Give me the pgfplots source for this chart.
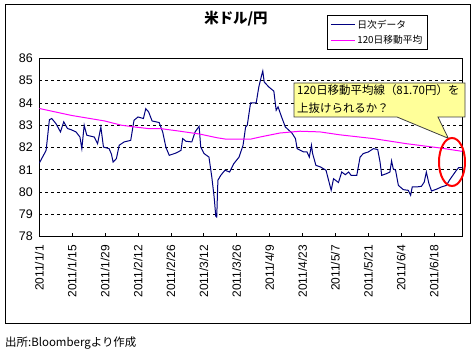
\documentclass[border=0pt]{standalone}
\usepackage{pgfplots}
\pgfplotsset{compat=1.18}
\usepackage{fontspec}
\setmainfont{Liberation Sans}
\newfontfamily\jp{Noto Sans CJK JP}
\definecolor{navyline}{HTML}{000080}
\definecolor{maline}{HTML}{FF00FF}
\definecolor{callfill}{HTML}{FFFF99}

\pgfplotstableread{
day val
0 81.30
2.9 81.87
4.3 83.25
5.3 83.30
7.1 83.07
9.0 82.70
10.4 83.15
12.0 82.85
13.5 82.80
15.6 82.70
17.3 82.47
18.1 81.95
19.1 83.00
20.2 82.55
23.4 82.47
24.8 82.17
26.2 82.92
27.3 82.02
29.7 81.95
30.7 81.70
31.4 81.35
32.8 81.50
34.0 82.10
36.1 82.25
38.9 82.32
40.3 83.22
42.0 83.37
44.3 83.30
45.3 83.74
46.5 83.60
48.0 83.19
51.0 83.12
52.5 82.70
53.9 82.00
55.3 81.65
58.1 81.75
60.3 81.87
61.0 82.40
62.4 82.28
64.9 82.25
66.3 82.70
68.0 82.95
68.7 82.02
70.1 81.73
72.2 81.57
73.4 80.68
74.4 79.78
75.1 78.91
75.5 78.88
76.0 80.53
77.2 80.75
79.0 80.98
81.0 80.90
82.8 81.28
85.0 81.57
86.7 82.10
87.8 82.92
88.5 83.00
89.9 84.00
92.3 84.00
93.4 84.71
94.6 85.24
95.1 85.43
95.7 84.94
97.7 84.71
99.8 84.53
100.8 83.67
101.6 83.82
103.0 83.40
104.7 82.92
107.5 82.65
109.0 82.40
109.7 81.95
112.5 81.80
113.9 81.80
114.9 81.57
115.8 82.10
116.3 81.73
117.7 81.20
119.6 81.13
122.0 80.98
123.1 80.53
124.2 80.08
125.2 80.60
127.3 80.43
128.7 80.90
130.2 80.78
131.6 80.90
132.7 80.75
135.1 80.75
136.5 81.57
137.9 81.73
140.0 81.80
142.2 81.95
144.0 81.91
145.0 81.35
145.7 80.75
147.8 80.83
149.2 80.90
149.9 81.40
150.6 81.05
151.6 80.98
152.8 80.30
154.9 80.11
157.0 80.08
158.0 79.86
158.7 80.23
160.5 80.23
162.6 80.26
163.8 80.45
164.7 80.90
165.8 80.38
166.9 80.05
169.0 80.13
171.1 80.23
173.2 80.30
174.7 80.56
177.5 80.98
178.5 81.10
179.8 81.10
}\daily

\pgfplotstableread{
day val
0 83.75
13.6 83.44
27.8 83.19
34.9 83.00
40.6 82.92
46.3 82.85
51.4 82.85
59.9 82.73
68.4 82.60
75.5 82.44
79.7 82.37
85.4 82.37
89.7 82.37
93.9 82.47
102.4 82.65
110.9 82.73
119.4 82.70
127.8 82.57
142.1 82.40
156.3 82.17
170.5 81.98
179.8 81.83
}\mavg

\begin{document}
\begin{tikzpicture}
\path[use as bounding box, fill=white] (0,0) rectangle (475bp,352bp);
\begin{scope}[x=1bp,y=-1bp,yshift=352bp]
\draw[line width=1bp] (5.3,4.3) rectangle (470.7,324);
\node[anchor=west, inner sep=0, font=\jp\fontsize{11.5}{13}\selectfont] at (5,343) {出所:Bloombergより作成};
\end{scope}
\begin{axis}[
  at={(39.3bp,115.3bp)}, anchor=south west,
  scale only axis, width=423bp, height=178.4bp,
  xmin=0, xmax=180, ymin=78, ymax=86,
  ytick={78,79,...,86},
  xtick={0,14,...,168},
  xticklabels={2011/1/1,2011/1/15,2011/1/29,2011/2/12,2011/2/26,2011/3/12,2011/3/26,2011/4/9,2011/4/23,2011/5/7,2011/5/21,2011/6/4,2011/6/18},
  xticklabel style={rotate=90, anchor=east, font=\fontsize{12}{14}\selectfont},
  yticklabel style={font=\fontsize{12.5}{14}\selectfont},
  xticklabel shift=5bp,
  yticklabel shift=3bp,
  /pgf/number format/assume math mode=true,
  xtick pos=bottom,
  ytick style={draw=none},
  xtick style={black, line width=0.8bp},
  major tick length=4bp,
  tick align=inside,
  ymajorgrids,
  grid style={black, dash pattern=on 3bp off 3bp, line width=0.8bp},
  axis line style={line width=1bp},
  title={\jp\bfseries 米ドル/円},
  title style={at={(0.465,1.19)}, anchor=center, font=\fontsize{14.5}{16}\selectfont},
  legend style={at={(0.680,1.2427)}, anchor=north west, draw=black, line width=0.8bp,
    font=\jp\fontsize{9.8}{11.5}\selectfont, inner xsep=3bp, inner ysep=2.5bp, row sep=1.5bp},
  legend cell align=left,
  legend image code/.code={\draw[#1] (0bp,0bp) -- (24bp,0bp);},
]
\addplot[navyline, line width=1bp, mark=none] table[x=day,y=val] {\daily};
\addlegendentry{日次データ}
\addplot[maline, line width=1bp, mark=none] table[x=day,y=val] {\mavg};
\addlegendentry{120日移動平均}
\end{axis}
\begin{scope}[x=1bp,y=-1bp,yshift=352bp]
\draw[fill=callfill, draw=black!75, line width=0.8bp] (294,83) -- (465,83) -- (465,117) -- (438,117) -- (448.3,138.3) -- (397,117) -- (294,117) -- cycle;
\node[anchor=west, inner sep=0, font=\jp\fontsize{11.5}{13}\selectfont] at (297,90.5) {120日移動平均線（81.70円）を};
\node[anchor=west, inner sep=0, font=\jp\fontsize{11.5}{13}\selectfont] at (297,108.5) {上抜けられるか？};
\draw[red, line width=2bp] (452,162) ellipse [x radius=13, y radius=24];
\end{scope}
\end{tikzpicture}
\end{document}
